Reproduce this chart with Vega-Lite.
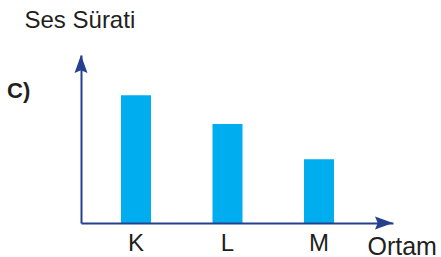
{
  "$schema": "https://vega.github.io/schema/vega-lite/v6.json",
  "width": 312,
  "height": 168,
  "autosize": {"type": "none"},
  "padding": {"left": 81, "top": 55, "right": 48, "bottom": 34},
  "background": "white",
  "config": {"view": {"stroke": null}, "font": "Liberation Sans"},
  "title": {"text": "C)", "anchor": "start", "frame": "group", "orient": "top", "fontSize": 22, "fontWeight": "bold", "color": "#231f20", "baseline": "alphabetic", "offset": 0, "dx": -74, "dy": 112},
  "data": {"values": [
    {"ortam": "K", "surat": 7.6},
    {"ortam": "L", "surat": 5.9},
    {"ortam": "M", "surat": 3.8}
  ]},
  "layer": [
    {
      "mark": {"type": "bar", "color": "#00aeef"},
      "encoding": {
        "x": {"field": "ortam", "type": "nominal", "sort": null,
          "scale": {"paddingInner": 0.672, "paddingOuter": 0.541, "align": 0.404},
          "axis": {"title": "Ortam", "titleX": 286, "titleY": 31, "titleAlign": "left", "titleBaseline": "alphabetic", "titleFontSize": 25, "titleFontWeight": "normal", "titleColor": "#231f20", "labelAngle": 0, "labelFontSize": 24, "labelColor": "#231f20", "labelBaseline": "alphabetic", "labelPadding": 27, "ticks": false, "grid": false, "domainColor": "#24408e", "domainWidth": 2, "zindex": 1}},
        "y": {"field": "surat", "type": "quantitative",
          "scale": {"domain": [0, 10]},
          "axis": {"title": "Ses Sürati", "titleAngle": 0, "titleX": -57, "titleY": -28, "titleAlign": "left", "titleBaseline": "alphabetic", "titleFontSize": 24, "titleFontWeight": "normal", "titleColor": "#231f20", "labels": false, "ticks": false, "grid": false, "domainColor": "#24408e", "domainWidth": 2, "zindex": 1}}
      }
    },
    {
      "data": {"values": [{"arrow": "y"}]},
      "mark": {"type": "point", "shape": "M0,0L0.72,2L0,1.7L-0.72,2Z", "filled": true, "size": 324, "color": "#24408e", "opacity": 1},
      "encoding": {"x": {"value": 0}, "y": {"value": 0}}
    },
    {
      "data": {"values": [{"arrow": "x"}]},
      "mark": {"type": "point", "shape": "M0,0L-2,-0.72L-1.7,0L-2,0.72Z", "filled": true, "size": 324, "color": "#24408e", "opacity": 1},
      "encoding": {"x": {"value": "width"}, "y": {"value": "height"}}
    }
  ]
}
